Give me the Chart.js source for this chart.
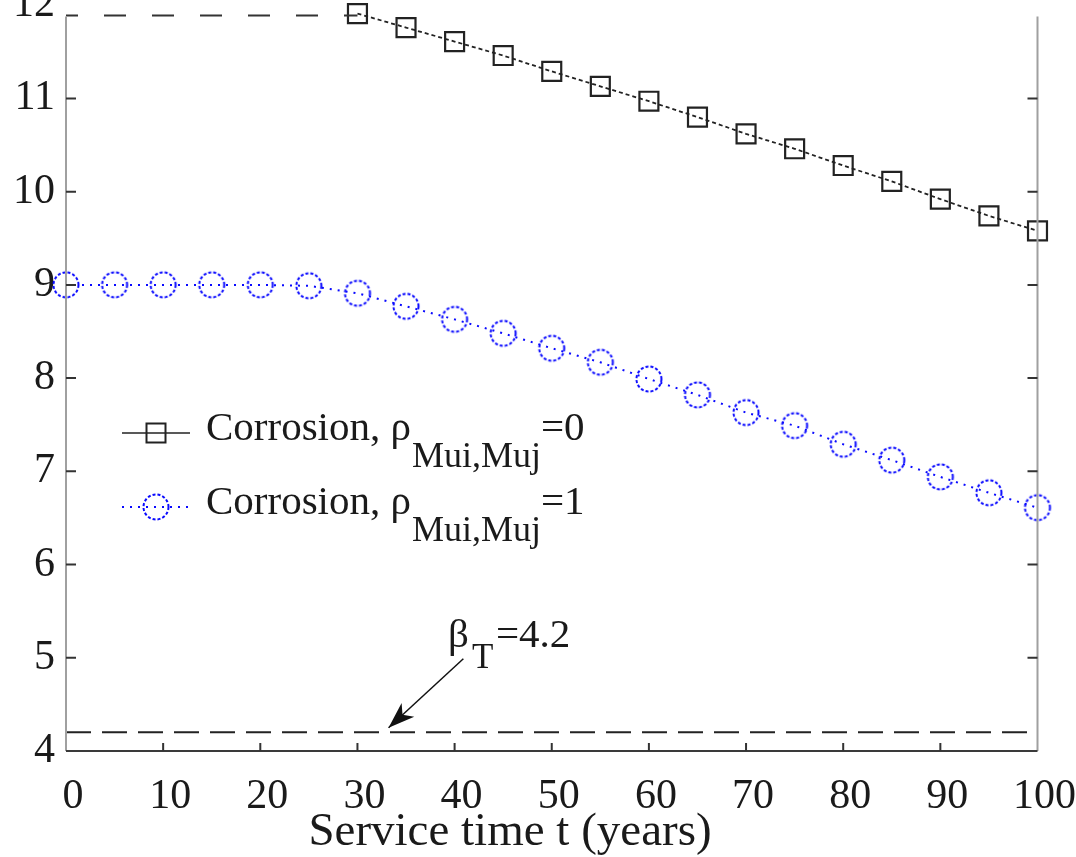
<!DOCTYPE html>
<html>
<head>
<meta charset="utf-8">
<script src="https://cdn.jsdelivr.net/npm/chart.js@4"></script>
<style>
  html, body { margin: 0; padding: 0; background: #fff; overflow: hidden; }
  #wrap { position: absolute; left: 0; top: -31px; width: 1090px; height: 888px; }
</style>
</head>
<body>
<div id="wrap"><canvas id="chart"></canvas></div>
<script>
// service time (years)
const years = [0, 5, 10, 15, 20, 25, 30, 35, 40, 45, 50, 55, 60, 65, 70, 75, 80, 85, 90, 95, 100];

// reliability index, rho = 0 (first markers start at 30 years)
const betaRho0 = [null, null, null, null, null, null,
  11.91, 11.76, 11.61, 11.46, 11.29, 11.13, 10.97, 10.80, 10.62, 10.46, 10.28, 10.11, 9.92, 9.74, 9.58];

// reliability index, rho = 1
const betaRho1 = [9.00, 9.00, 9.00, 9.00, 9.00, 8.99, 8.91, 8.77, 8.63, 8.48, 8.32, 8.17,
  7.99, 7.82, 7.63, 7.49, 7.29, 7.12, 6.94, 6.77, 6.61];

// dashed stretch at the top before the markers begin
const capYears = [0, 30];
const capValues = [11.89, 11.89];

// target reliability
const targetYears = [0, 100];
const targetValues = [4.2, 4.2];

const xTicks = [0, 10, 20, 30, 40, 50, 60, 70, 80, 90, 100];
const yTicks = [4, 5, 6, 7, 8, 9, 10, 11, 12];

const SERIF = "'Liberation Serif'";
const SHIFT = 31; // canvas is moved up by this much

function pts(xs, ys) {
  const out = [];
  xs.forEach((x, i) => { if (ys[i] !== null) out.push({ x: x, y: ys[i] }); });
  return out;
}

// dotted blue circle used as point marker
function dottedCircle() {
  const c = document.createElement("canvas");
  c.width = 30; c.height = 30;
  const g = c.getContext("2d");
  g.strokeStyle = "#0a0aff";
  g.lineWidth = 2;
  g.setLineDash([3, 2]);
  g.beginPath();
  g.arc(15, 15, 12.5, 0, Math.PI * 2);
  g.stroke();
  return c;
}
const circleMark = dottedCircle();

// frame, inside ticks, legend, annotation and axis title
const extras = {
  id: "extras",
  afterDraw(chart) {
    const ctx = chart.ctx;
    const a = chart.chartArea;
    const xs = chart.scales.x, ys = chart.scales.y;
    ctx.save();

    // frame
    const top = ys.getPixelForValue(11.88);
    ctx.lineWidth = 2;
    ctx.strokeStyle = "#a0a0a0";
    ctx.beginPath();
    ctx.moveTo(a.left, top); ctx.lineTo(a.left, a.bottom);
    ctx.moveTo(a.right, top); ctx.lineTo(a.right, a.bottom);
    ctx.stroke();
    ctx.strokeStyle = "#3a3a3a";
    ctx.beginPath();
    ctx.moveTo(a.left, a.bottom); ctx.lineTo(a.right, a.bottom);
    ctx.stroke();

    // ticks pointing inwards
    ctx.lineWidth = 2;
    ctx.strokeStyle = "#333";
    ctx.beginPath();
    yTicks.forEach(v => {
      if (v === 4 || v === 12) return;
      const y = ys.getPixelForValue(v);
      ctx.moveTo(a.left, y); ctx.lineTo(a.left + 10, y);
      ctx.moveTo(a.right, y); ctx.lineTo(a.right - 10, y);
    });
    xTicks.forEach(v => {
      if (v === 0 || v === 100) return;
      const x = xs.getPixelForValue(v);
      ctx.moveTo(x, a.bottom); ctx.lineTo(x, a.bottom - 8);
    });
    ctx.stroke();

    // legend
    const lx0 = 122, lx1 = 190, lxm = 156;
    const rows = [
      { y: 433 + SHIFT, tail: "=0", kind: "square" },
      { y: 507 + SHIFT, tail: "=1", kind: "circle" }
    ];
    rows.forEach(r => {
      ctx.save();
      if (r.kind === "square") {
        ctx.strokeStyle = "#222"; ctx.lineWidth = 1.5;
        ctx.beginPath(); ctx.moveTo(lx0, r.y); ctx.lineTo(lx1, r.y); ctx.stroke();
        ctx.lineWidth = 2;
        ctx.strokeRect(lxm - 9.5, r.y - 9.5, 19, 19);
      } else {
        ctx.strokeStyle = "#0a0aff"; ctx.lineWidth = 2; ctx.setLineDash([2, 6]);
        ctx.beginPath(); ctx.moveTo(lx0, r.y); ctx.lineTo(lx1, r.y); ctx.stroke();
        ctx.drawImage(circleMark, lxm - 15, r.y - 15);
      }
      ctx.restore();
      ctx.fillStyle = "#1a1a1a";
      ctx.textAlign = "left";
      ctx.textBaseline = "alphabetic";
      let x = 206;
      ctx.font = "41px " + SERIF;
      ctx.fillText("Corrosion, \u03c1", x, r.y + 7);
      x += ctx.measureText("Corrosion, \u03c1").width + 1;
      ctx.font = "36px " + SERIF;
      ctx.fillText("Mui,Muj", x, r.y + 34);
      x += ctx.measureText("Mui,Muj").width;
      ctx.font = "41px " + SERIF;
      ctx.fillText(r.tail, x, r.y + 7);
    });

    // beta_T annotation with arrow
    const tipX = xs.getPixelForValue(33.2), tipY = ys.getPixelForValue(4.25);
    const tailX = xs.getPixelForValue(40.9), tailY = ys.getPixelForValue(4.99);
    ctx.strokeStyle = "#111"; ctx.fillStyle = "#111"; ctx.lineWidth = 1.5;
    ctx.beginPath(); ctx.moveTo(tailX, tailY); ctx.lineTo(tipX, tipY); ctx.stroke();
    const ang = Math.atan2(tipY - tailY, tipX - tailX);
    ctx.beginPath();
    ctx.moveTo(tipX, tipY);
    ctx.lineTo(tipX - 28 * Math.cos(ang - 0.34), tipY - 28 * Math.sin(ang - 0.34));
    ctx.lineTo(tipX - 19 * Math.cos(ang), tipY - 19 * Math.sin(ang));
    ctx.lineTo(tipX - 28 * Math.cos(ang + 0.34), tipY - 28 * Math.sin(ang + 0.34));
    ctx.closePath(); ctx.fill();

    ctx.fillStyle = "#1a1a1a";
    const by = 647 + SHIFT;
    ctx.font = "41px " + SERIF;
    ctx.fillText("\u03b2", 448, by);
    ctx.font = "35px " + SERIF;
    ctx.fillText("T", 472, by + 21);
    ctx.font = "41px " + SERIF;
    ctx.fillText("=4.2", 496, by);

    // x axis title
    ctx.font = "47px " + SERIF;
    ctx.textAlign = "center";
    ctx.fillText("Service time t (years)", 510, 845 + SHIFT);

    ctx.restore();
  }
};

new Chart(document.getElementById("chart").getContext("2d"), {
  type: "line",
  data: {
    datasets: [
      {
        label: "cap",
        data: pts(capYears, capValues),
        borderColor: "#333",
        borderWidth: 2,
        borderDash: [22, 26],
        borderDashOffset: 10,
        pointRadius: 0,
        clip: false
      },
      {
        label: "target",
        data: pts(targetYears, targetValues),
        borderColor: "#222",
        borderWidth: 2,
        borderDash: [25, 11],
        pointRadius: 0,
        clip: false
      },
      {
        label: "Corrosion, rho=0",
        data: pts(years, betaRho0),
        borderColor: "#222",
        borderWidth: 1.8,
        borderDash: [4, 3],
        pointStyle: "rect",
        pointRadius: 13.4,
        pointBorderWidth: 2.2,
        pointBorderColor: "#222",
        pointBackgroundColor: "rgba(0,0,0,0)",
        clip: false
      },
      {
        label: "Corrosion, rho=1",
        data: pts(years, betaRho1),
        borderColor: "#0a0aff",
        borderWidth: 2,
        borderDash: [2, 6],
        pointStyle: circleMark,
        pointRadius: 13,
        clip: false
      }
    ]
  },
  options: {
    responsive: true,
    maintainAspectRatio: false,
    animation: false,
    layout: { padding: 0 },
    font: { family: SERIF },
    plugins: {
      legend: { display: false },
      tooltip: { enabled: false }
    },
    scales: {
      x: {
        type: "linear",
        min: 0,
        max: 100,
        afterBuildTicks: s => { s.ticks = xTicks.map(v => ({ value: v })); },
        afterFit: s => { s.height = 106; },
        border: { display: false },
        grid: { display: false, drawTicks: false },
        ticks: {
          padding: 21,
          labelOffset: 7,
          color: "#1a1a1a",
          font: { family: SERIF, size: 42 }
        }
      },
      y: {
        min: 4,
        max: 12,
        afterBuildTicks: s => { s.ticks = yTicks.map(v => ({ value: v })); },
        afterFit: s => { s.width = 66; },
        border: { display: false },
        grid: { display: false, drawTicks: false },
        ticks: {
          padding: 11,
          color: "#1a1a1a",
          font: { family: SERIF, size: 42 }
        }
      }
    }
  },
  plugins: [extras]
});
</script>
</body>
</html>
